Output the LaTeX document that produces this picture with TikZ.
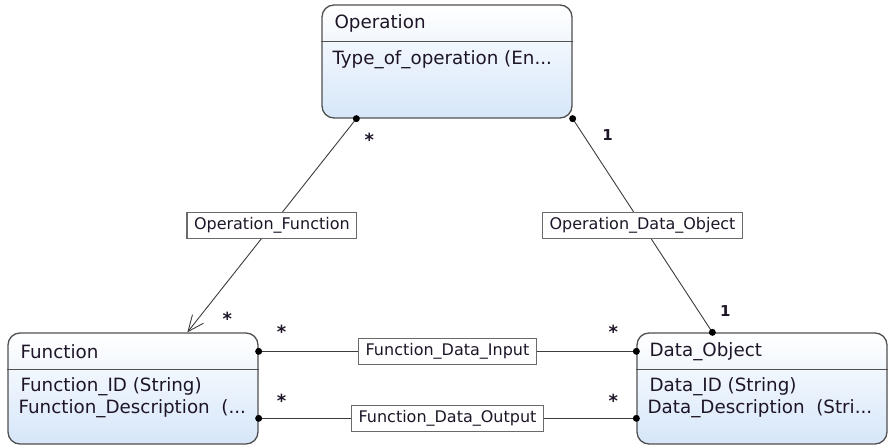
\documentclass[tikz,border=0pt]{standalone}
\usepackage{fontspec}
\setmainfont{DejaVu Sans}
\usetikzlibrary{arrows.meta,positioning,calc}
\definecolor{umlborder}{RGB}{80,80,80}
\definecolor{umlline}{RGB}{60,60,60}
\definecolor{umlfill}{RGB}{214,230,249}
\definecolor{umltext}{RGB}{30,22,40}

\begin{document}
\begin{tikzpicture}[x=1pt,y=-1pt,
    classbox/.style={draw=umlborder, line width=1.3pt, rounded corners=12pt, minimum width=250pt, inner sep=0pt, top color=white, bottom color=umlfill},
    ctitle/.style={font=\fontsize{18.3}{20}\selectfont, text=umltext, anchor=west, inner sep=0pt},
    cattr/.style={font=\fontsize{18.3}{20}\selectfont, text=umltext, anchor=west, inner sep=0pt},
    assoc/.style={draw=umlborder!85, fill=white, line width=1.1pt, font=\fontsize{16}{18}\selectfont, text=umltext, inner xsep=7pt, minimum height=26pt},
    link/.style={draw=umlline, line width=0.9pt},
    mult/.style={font=\bfseries\fontsize{18}{20}\selectfont, text=umltext, inner sep=0pt},
    multone/.style={mult, font=\bfseries\fontsize{15}{18}\selectfont}
]
\useasboundingbox (0,0) rectangle (893,446);

% Classes
\node[classbox, minimum height=113pt] (op) at (447,61.5) {};
\node[classbox, minimum height=111pt] (fn) at (133,388.5) {};
\node[classbox, minimum height=111pt] (do) at (762,388.5) {};
\foreach \c in {op,fn,do}
  \draw[umlborder, line width=1.2pt] ($(\c.north west)+(0,37)$) -- ($(\c.north east)+(0,37)$);

\node[ctitle] (opName) at ($(op.north west)+(13,19)$) {Operation};
\node[cattr] (opAttr) at ($(op.north west)+(11,55)$) {Type\_of\_operation (En...};

\node[ctitle] (fnName) at ($(fn.north west)+(13,19)$) {Function};
\node[cattr] (fnAttrA) at ($(fn.north west)+(13,54)$) {Function\_ID (String)};
\node[cattr] (fnAttrB) at ($(fn.north west)+(11,76)$) {Function\_Description \ (...};

\node[ctitle] (doName) at ($(do.north west)+(13,19)$) {Data\_Object};
\node[cattr] (doAttrA) at ($(do.north west)+(13,54)$) {Data\_ID (String)};
\node[cattr] (doAttrB) at ($(do.north west)+(11,76)$) {Data\_Description \ (Stri...};

% Connector ends
\coordinate (opL) at ($(op.south west)+(35,0)$);
\coordinate (opR) at (op.south east);
\coordinate (fnT) at ($(fn.north west)+(180,0)$);
\coordinate (doT) at ($(do.north west)+(76,0)$);
\coordinate (fnIn) at ($(fn.north east)+(0,19)$);
\coordinate (fnOut) at ($(fn.north east)+(0,86)$);
\coordinate (doIn) at ($(do.north west)+(0,19)$);
\coordinate (doOut) at ($(do.north west)+(0,86)$);

% Associations
\draw[link, -{Straight Barb[length=16pt, width=14pt, line width=0.9pt]}] (opL) -- node[assoc] (opFn) {Operation\_Function} (fnT);
\draw[link] (opR) -- node[assoc] (opDo) {Operation\_Data\_Object} (doT);
\draw[link] (fnIn) -- node[assoc] (fnDoIn) {Function\_Data\_Input} (doIn);
\draw[link] (fnOut) -- node[assoc] (fnDoOut) {Function\_Data\_Output} (doOut);

\foreach \p in {opL,opR,doT,fnIn,fnOut,doIn,doOut}
  \fill[black] (\p) circle (3.5pt);

% Multiplicities
\node[mult] (mOpL) at ($(opL)+(13,21)$) {*};
\node[multone] (mOpR) at ($(opR)+(35,16)$) {1};
\node[mult] (mFnT) at ($(fnT)+(40,-14)$) {*};
\node[mult] (mFnIn) at ($(fnIn)+(23,-20)$) {*};
\node[mult] (mDoIn) at ($(doIn)+(-23,-20)$) {*};
\node[mult] (mFnOut) at ($(fnOut)+(23,-18)$) {*};
\node[mult] (mDoOut) at ($(doOut)+(-23,-18)$) {*};
\node[multone] (mDoT) at ($(doT)+(13,-21)$) {1};
\end{tikzpicture}
\end{document}
